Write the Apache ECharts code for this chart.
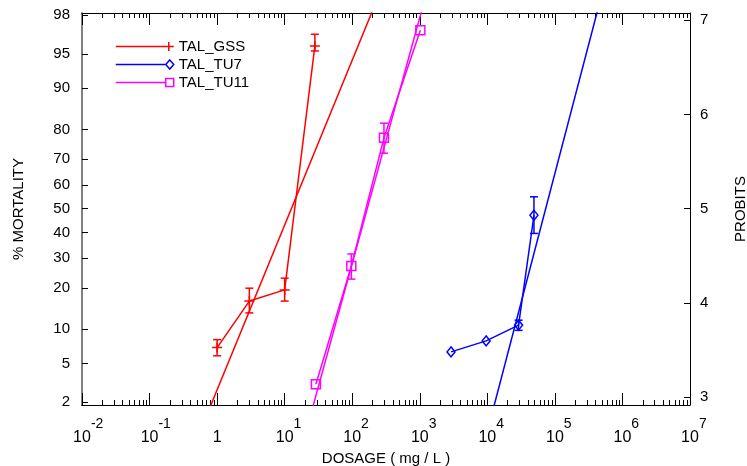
<!DOCTYPE html>
<html>
<head>
<meta charset="utf-8">
<script src="https://cdn.jsdelivr.net/npm/echarts@6/dist/echarts.min.js"></script>
<style>html,body{margin:0;padding:0;background:#fff}#c{width:747px;height:466px}</style>
</head>
<body>
<div id="c"></div>
<script>
// ---------- data (dose in mg/L, mortality in %) ----------
const gssDose = [1, 3, 10, 28];
const gssMort = [7.0, 16.3, 19.4, 95.8];
const gssErrLow = [5.9, 13.4, 16.3, 95.3];
const gssErrHigh = [8.2, 19.9, 23.0, 96.8];
const gssFitDose = [0.59, 268];
const gssFitMort = [1, 99];

const tu7Dose = [2900, 9600, 29000, 49000];
const tu7Mort = [6.4, 8.0, 10.8, 47.2];
const tu7ErrLow = [null, null, 9.8, 39.6];
const tu7ErrHigh = [null, null, 11.8, 55.0];
const tu7FitDose = [10350, 516000];
const tu7FitMort = [1, 99];

const tu11Dose = [29, 97, 295, 1020];
const tu11Mort = [3.1, 27.1, 77.4, 97.1];
const tu11ErrLow = [null, 22.7, 72.2, null];
const tu11ErrHigh = [null, 31.5, 81.8, null];
const tu11FitDose = [21.5, 1297];
const tu11FitMort = [1, 99];

// axis ticks
const pctTicks = [2, 5, 10, 20, 30, 40, 50, 60, 70, 80, 90, 95, 98];
const probitTicks = [3, 4, 5, 6, 7];
const decadeTicks = [1e-2, 1e-1, 1, 10, 100, 1e3, 1e4, 1e5, 1e6, 1e7];
const probitMin = 2.914, probitMax = 7.078;
const doseMin = 1e-2, doseMax = 1e7;

// ---------- probit transform ----------
function normInv(p){
  const a=[-3.969683028665376e+01,2.209460984245205e+02,-2.759285104469687e+02,1.383577518672690e+02,-3.066479806614716e+01,2.506628277459239e+00];
  const b=[-5.447609879822406e+01,1.615858368580409e+02,-1.556989798598866e+02,6.680131188771972e+01,-1.328068155288572e+01];
  const c=[-7.784894002430293e-03,-3.223964580411365e-01,-2.400758277161838e+00,-2.549732539343734e+00,4.374664141464968e+00,2.938163982698783e+00];
  const d=[7.784695709041462e-03,3.224671290700398e-01,2.445134137142996e+00,3.754408661907416e+00];
  const pl=0.02425, ph=1-pl; let q,r;
  if(p<pl){q=Math.sqrt(-2*Math.log(p));return (((((c[0]*q+c[1])*q+c[2])*q+c[3])*q+c[4])*q+c[5])/((((d[0]*q+d[1])*q+d[2])*q+d[3])*q+1);}
  if(p>ph){q=Math.sqrt(-2*Math.log(1-p));return -(((((c[0]*q+c[1])*q+c[2])*q+c[3])*q+c[4])*q+c[5])/((((d[0]*q+d[1])*q+d[2])*q+d[3])*q+1);}
  q=p-0.5;r=q*q;return (((((a[0]*r+a[1])*r+a[2])*r+a[3])*r+a[4])*r+a[5])*q/(((((b[0]*r+b[1])*r+b[2])*r+b[3])*r+b[4])*r+1);
}
const probit = pct => 5 + normInv(pct / 100);

const minorTicks = [];
for (let e = -2; e < 7; e++) for (let k = 2; k <= 9; k++) minorTicks.push(k * Math.pow(10, e));

const pts = (xs, ys) => xs.map((x, i) => [x, probit(ys[i])]);
const errs = (xs, lo, hi) => xs.map((x, i) => lo[i] == null ? null : [x, probit(lo[i]), probit(hi[i])]).filter(v => v);

const RED = '#ff0000', BLUE = '#0000ff', MAG = '#ff00ff';
const FONT = 'Liberation Sans, Arial, sans-serif';

const plusPath = 'path://M0,5L10,5M5,0L5,10';

function errorSeries(data, color) {
  return {
    type: 'custom', data: data, z: 4, silent: true,
    renderItem: function (params, api) {
      const lo = api.coord([api.value(0), api.value(1)]);
      const hi = api.coord([api.value(0), api.value(2)]);
      const w = 4;
      const st = { stroke: color, lineWidth: 1.5 };
      return { type: 'group', children: [
        { type: 'line', shape: { x1: lo[0], y1: lo[1], x2: hi[0], y2: hi[1] }, style: st },
        { type: 'line', shape: { x1: lo[0]-w, y1: lo[1], x2: lo[0]+w, y2: lo[1] }, style: st },
        { type: 'line', shape: { x1: hi[0]-w, y1: hi[1], x2: hi[0]+w, y2: hi[1] }, style: st }
      ]};
    }
  };
}
function dataSeries(name, data, color, symbol, size) {
  return {
    name: name, type: 'line', data: data, symbol: symbol, symbolSize: size, z: 5,
    lineStyle: { color: color, width: 1.5 },
    itemStyle: { color: 'rgba(0,0,0,0)', borderColor: color, borderWidth: 1.5 }
  };
}
function fitSeries(name, data, color) {
  return { name: name, type: 'line', data: data, symbol: 'none', z: 3,
    lineStyle: { color: color, width: 1.5 } };
}

// legend icons (stroked line + marker at the right end), in a 58x9 box
const iconGSS = 'path://M0,4.5L58,4.5M53,0L53,9';
const iconTU7 = 'path://M0,4.5L50,4.5M54,0L58,4.5L54,9L50,4.5Z';
const iconTU11 = 'path://M0,4.5L50,4.5M50,0.5L58,0.5L58,8.5L50,8.5Z';
const legendStyle = c => ({ color: 'rgba(0,0,0,0)', borderColor: c, borderWidth: 1.5 });

const xLabelRich = {
  b: { fontSize: 16, fontFamily: FONT, color: '#000', padding: [13, 0, 0, 0], verticalAlign: 'bottom' },
  s: { fontSize: 14, fontFamily: FONT, color: '#000', verticalAlign: 'top' },
  h: { fontSize: 14, fontFamily: FONT, color: 'rgba(0,0,0,0)', verticalAlign: 'top' }
};

const chart = echarts.init(document.getElementById('c'), null, { renderer: 'canvas' });
chart.setOption({
  animation: false,
  backgroundColor: '#fff',
  grid: { left: 82, right: 57, top: 13, bottom: 61, containLabel: false, outerBoundsMode: 'none' },
  legend: {
    left: 115, top: 39, padding: 0, orient: 'vertical', itemWidth: 58, itemHeight: 9, itemGap: 3,
    selectedMode: false,
    textStyle: { fontSize: 15, lineHeight: 15, fontFamily: FONT, color: '#000' },
    data: [
      { name: 'TAL_GSS', icon: iconGSS, itemStyle: legendStyle(RED) },
      { name: 'TAL_TU7', icon: iconTU7, itemStyle: legendStyle(BLUE) },
      { name: 'TAL_TU11', icon: iconTU11, itemStyle: legendStyle(MAG) }
    ]
  },
  xAxis: [
    { type: 'log', logBase: 10, min: doseMin, max: doseMax, position: 'bottom',
      name: 'DOSAGE ( mg / L )', nameLocation: 'middle', nameGap: 42,
      nameTextStyle: { fontSize: 15, fontFamily: FONT, color: '#000' },
      axisLine: { onZero: false, lineStyle: { color: '#000', width: 1 } },
      axisTick: { inside: true, length: 12, customValues: decadeTicks, lineStyle: { color: '#000' } },
      axisLabel: { customValues: decadeTicks, margin: 12, rich: xLabelRich,
        formatter: function (v) { const e = Math.round(Math.log10(v)); return e === 0 ? '{b|1}' : '{h|' + e + '}{b|10}{s|' + e + '}'; } },
      splitLine: { show: false }, minorTick: { show: false } },
    { type: 'log', logBase: 10, min: doseMin, max: doseMax, position: 'bottom',
      axisLine: { show: false, onZero: false },
      axisTick: { inside: true, length: 5, customValues: minorTicks, lineStyle: { color: '#000' } },
      axisLabel: { show: false }, splitLine: { show: false } },
    { type: 'log', logBase: 10, min: doseMin, max: doseMax, position: 'top',
      axisLine: { onZero: false, lineStyle: { color: '#000', width: 1 } },
      axisTick: { inside: true, length: 12, customValues: decadeTicks, lineStyle: { color: '#000' } },
      axisLabel: { show: false }, splitLine: { show: false } },
    { type: 'log', logBase: 10, min: doseMin, max: doseMax, position: 'top',
      axisLine: { show: false, onZero: false },
      axisTick: { inside: true, length: 5, customValues: minorTicks, lineStyle: { color: '#000' } },
      axisLabel: { show: false }, splitLine: { show: false } }
  ],
  yAxis: [
    { type: 'value', min: probitMin, max: probitMax, position: 'left',
      name: '% MORTALITY', nameLocation: 'middle', nameGap: 56, nameRotate: 90,
      nameTextStyle: { fontSize: 15, fontFamily: FONT, color: '#000' },
      axisLine: { show: true, onZero: false, lineStyle: { color: '#808080', width: 2 } },
      axisTick: { show: true, inside: true, length: 6, customValues: pctTicks.map(probit), lineStyle: { color: '#000' } },
      axisLabel: { customValues: pctTicks.map(probit), margin: 12, fontSize: 15, fontFamily: FONT, color: '#000',
        formatter: function (v) { let best = pctTicks[0], bd = 1e9; pctTicks.forEach(p => { const d = Math.abs(probit(p) - v); if (d < bd) { bd = d; best = p; } }); return String(best); } },
      splitLine: { show: false } },
    { type: 'value', min: probitMin, max: probitMax, position: 'right',
      name: 'PROBITS', nameLocation: 'middle', nameGap: 43, nameRotate: 90,
      nameTextStyle: { fontSize: 15, fontFamily: FONT, color: '#000' },
      axisLine: { show: true, onZero: false, lineStyle: { color: '#000', width: 1 } },
      axisTick: { show: true, inside: true, length: 6, customValues: probitTicks, lineStyle: { color: '#000' } },
      axisLabel: { customValues: probitTicks, margin: 10, fontSize: 15, fontFamily: FONT, color: '#000' },
      splitLine: { show: false } }
  ],
  series: [
    fitSeries('GSS fit', pts(gssFitDose, gssFitMort), RED),
    fitSeries('TU7 fit', pts(tu7FitDose, tu7FitMort), BLUE),
    fitSeries('TU11 fit', pts(tu11FitDose, tu11FitMort), MAG),
    dataSeries('TAL_GSS', pts(gssDose, gssMort), RED, plusPath, 10),
    dataSeries('TAL_TU7', pts(tu7Dose, tu7Mort), BLUE, 'diamond', [8, 10]),
    dataSeries('TAL_TU11', pts(tu11Dose, tu11Mort), MAG, 'rect', 9),
    errorSeries(errs(gssDose, gssErrLow, gssErrHigh), RED),
    errorSeries(errs(tu7Dose, tu7ErrLow, tu7ErrHigh), BLUE),
    errorSeries(errs(tu11Dose, tu11ErrLow, tu11ErrHigh), MAG)
  ]
});
</script>
</body>
</html>
